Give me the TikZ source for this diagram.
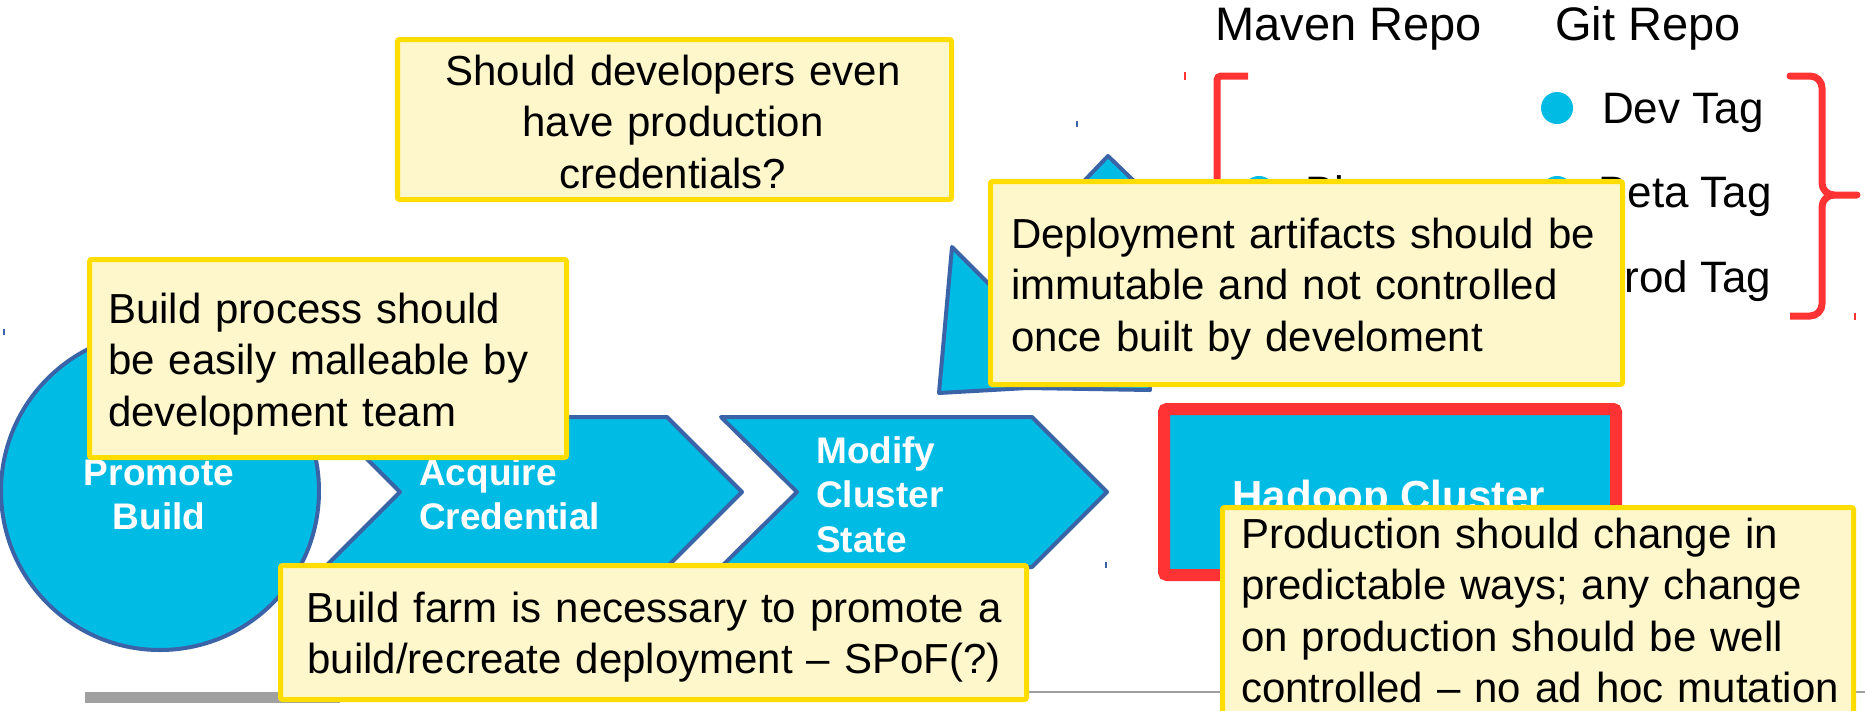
\documentclass[tikz,border=0pt]{standalone}
\usepackage{fontspec}
\setmainfont{Liberation Sans}
\definecolor{cblue}{HTML}{00BBE4}
\definecolor{cborder}{HTML}{3B64A8}
\definecolor{nfill}{HTML}{FFF7CC}
\definecolor{nborder}{HTML}{FFDD00}
\definecolor{cred}{HTML}{FF3333}
\definecolor{lgray}{HTML}{A0A0A0}
\tikzset{
  note/.style={draw=nborder, fill=nfill, line width=5pt, rounded corners=2pt, inner sep=0pt, outer sep=0pt},
  notetext/.style={inner sep=0pt, font=\fontsize{42}{51.5}\selectfont, text width=#1},
  chev/.style={draw=cborder, fill=cblue, line width=4pt, line join=round},
  chevtext/.style={text=white, font=\fontsize{37}{44.5}\selectfont\bfseries, inner sep=0pt, text width=300pt, align=left},
  repotext/.style={inner sep=0pt, font=\fontsize{47}{56}\selectfont, anchor=base west},
  tagtext/.style={inner sep=0pt, font=\fontsize{44}{52}\selectfont, anchor=base west},
  bullet/.style={circle, fill=cblue, inner sep=0pt, minimum size=32pt},
  redline/.style={draw=cred, line width=7pt},
  tick/.style={line width=1.5pt}
}
\begin{document}
\begin{tikzpicture}[x=1pt,y=-1pt]
\useasboundingbox (0,0) rectangle (1865,710);
\clip (0,0) rectangle (1865,710);
\fill[white] (0,0) rectangle (1865,710);

% bottom grey lines
\draw[lgray, line width=2pt] (1000,692) -- (1865,692);
\fill[lgray] (85,692) rectangle (340,703);

% repo headers
\node[repotext] (maven) at (1215,40) {Maven Repo};
\node[repotext] (git) at (1555,40) {Git Repo};

% brackets
\draw[redline, rounded corners=4pt] (1248,76) -- (1217,76) -- (1217,318) -- (1248,318);
\draw[redline, line cap=round] (1790,76) -- (1810,76) to[out=0,in=90] (1822,88) -- (1822,183) to[out=-90,in=180] (1834,195) -- (1857,195);
\draw[redline] (1834,195) to[out=180,in=90] (1822,207) -- (1822,304) to[out=-90,in=0] (1810,316) -- (1790,316);
\draw[cred, tick] (1185,72) -- (1185,80);
\draw[cred, tick] (1855,313) -- (1855,320);

% tags
\node[bullet] (bdev) at (1557,108) {};
\node[bullet] (bbeta) at (1557,192) {};
\node[bullet] (bprod) at (1557,277) {};
\node[bullet] (bbin) at (1259,192) {};
\node[tagtext] (dev) at (1602,123) {Dev Tag};
\node[tagtext] (beta) at (1598,207) {Beta Tag};
\node[tagtext] (prod) at (1595,292) {Prod Tag};
\node[tagtext] (bin) at (1305,207) {Binary};

% blue arrow shape behind deployment note
\draw[chev] (939,393) -- (952,247) -- (1000,295) -- (1085,180) -- (1108,156) -- (1135,182) -- (1150,390) -- (1027,388) -- cycle;
\draw[cborder, tick] (1077,121) -- (1077,127);

% process chevrons
\draw[chev] (325,417) -- (667,417) -- (742,492) -- (667,567) -- (325,567) -- (400,492) -- cycle;
\draw[chev] (721,417) -- (1032,417) -- (1107,492) -- (1032,567) -- (721,567) -- (797,492) -- cycle;
\node[chev, circle, minimum size=318pt, inner sep=0pt] (promote) at (160,491) {};
\draw[cborder, tick] (4,329) -- (4,335);
\draw[cborder, tick] (1106,562) -- (1106,568);

\node[chevtext, anchor=base, text width=200pt, align=center] (tpromote) at (159,485) {Promote\\Build};
\node[chevtext, anchor=base west] (tacquire) at (419,485) {Acquire\\Credential};
\node[chevtext, anchor=base west] (tmodify) at (816,463) {Modify\\Cluster\\State};

% Hadoop cluster
\node[draw=cred, fill=cblue, line width=12pt, rounded corners=3pt, minimum width=452pt, minimum height=166pt, inner sep=0pt] (hadoop) at (1390,492) {};
\node[inner sep=0pt, anchor=base, text=white, font=\fontsize{42}{50}\selectfont\bfseries] (thadoop) at (1389,510) {Hadoop Cluster};

% notes
\node[note, minimum width=554pt, minimum height=160pt] (n1) at (674.5,119.5) {};
\node[notetext=540pt, align=center, anchor=base] (t1) at (673,85) {Should developers even\\have production\\credentials?};

\node[note, minimum width=477pt, minimum height=198pt] (n2) at (328,358.5) {};
\node[notetext=455pt, align=left, anchor=base west] (t2) at (108,323) {Build process should\\be easily malleable by\\development team};

\node[note, minimum width=632pt, minimum height=203pt] (n3) at (1306.5,283) {};
\node[notetext=610pt, align=left, anchor=base west] (t3) at (1011,248) {Deployment artifacts should be\\immutable and not controlled\\once built by develoment};

\node[note, minimum width=746pt, minimum height=134pt] (n4) at (653.5,632.5) {};
\node[notetext=740pt, align=center, anchor=base] (t4) at (654,622) {Build farm is necessary to promote a\\build/recreate deployment – SPoF(?)};

\node[note, minimum width=631pt, minimum height=252pt] (n5) at (1538,633.5) {};
\node[notetext=612pt, align=left, anchor=base west] (t5) at (1241,548) {Production should change in\\predictable ways; any change\\on production should be well\\controlled – no ad hoc mutation};
\end{tikzpicture}
\end{document}
